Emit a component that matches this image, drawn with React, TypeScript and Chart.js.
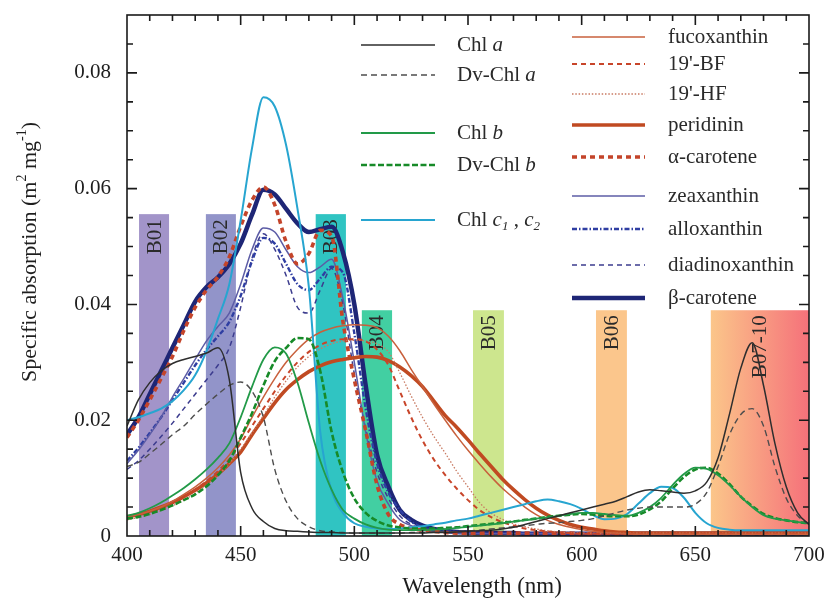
import React, { useEffect, useRef } from 'react';
import { Chart, registerables } from 'chart.js';

Chart.register(...registerables);

const FONT = "'Liberation Serif', 'Times New Roman', serif";

// ---------------- data ----------------
const wavelengths = [
  400, 405, 410, 415, 420, 425, 430, 435, 440, 445,
  450, 455, 460, 465, 470, 475, 480, 485, 490, 495,
  500, 505, 510, 515, 520, 525, 530, 535, 540, 545,
  550, 555, 560, 565, 570, 575, 580, 585, 590, 595,
  600, 605, 610, 615, 620, 625, 630, 635, 640, 645,
  650, 655, 660, 665, 670, 675, 680, 685, 690, 695,
  700,
];

const chlA = [
  0.019, 0.0235, 0.0265, 0.0285, 0.0298, 0.0305, 0.031, 0.0316, 0.0325, 0.027,
  0.011, 0.0048, 0.0025, 0.0013, 0.0009, 0.0008, 0.0007, 0.0006, 0.0006, 0.0005,
  0.0005, 0.0005, 0.0005, 0.0005, 0.0005, 0.0005, 0.0005, 0.0006, 0.0006, 0.0007,
  0.0008, 0.0009, 0.001, 0.0012, 0.0015, 0.002, 0.0025, 0.003, 0.0035, 0.004,
  0.0045, 0.005, 0.0055, 0.006, 0.0068, 0.0076, 0.008, 0.0078, 0.0076, 0.0074,
  0.0078, 0.0093, 0.0135, 0.021, 0.029, 0.0334, 0.026, 0.016, 0.0085, 0.004,
  0.002,
];
const dvChlA = [
  0.012, 0.0127, 0.0142, 0.0158, 0.0175, 0.019, 0.021, 0.0228, 0.0245, 0.026,
  0.0266, 0.025, 0.0205, 0.0115, 0.006, 0.003, 0.0016, 0.0009, 0.0007, 0.0006,
  0.0005, 0.0005, 0.0005, 0.0005, 0.0005, 0.0006, 0.0006, 0.0007, 0.0007, 0.0008,
  0.0009, 0.001, 0.0012, 0.0014, 0.0016, 0.0018, 0.002, 0.0022, 0.0023, 0.0025,
  0.0027, 0.003, 0.0035, 0.004, 0.0045, 0.0048, 0.005, 0.005, 0.005, 0.005,
  0.0055, 0.0075, 0.012, 0.0175, 0.021, 0.022, 0.019, 0.012, 0.0065, 0.0035,
  0.002,
];
const chlB = [
  0.0035, 0.004, 0.0048, 0.0058, 0.007, 0.0083, 0.0098, 0.0115, 0.0135, 0.016,
  0.0205, 0.0258, 0.0305, 0.0326, 0.0315, 0.0265, 0.0195, 0.013, 0.008, 0.0045,
  0.003, 0.002, 0.0014, 0.0011, 0.001, 0.001, 0.001, 0.0011, 0.0012, 0.0014,
  0.0016, 0.0018, 0.002, 0.0022, 0.0025, 0.0027, 0.003, 0.0032, 0.0035, 0.0038,
  0.004, 0.004, 0.0038, 0.0036, 0.0035, 0.004, 0.005, 0.0066, 0.0088, 0.0107,
  0.0118, 0.0116, 0.0105, 0.0088, 0.0068, 0.005, 0.0036, 0.003, 0.0027, 0.0024,
  0.0022,
];
const dvChlB = [
  0.003, 0.0033, 0.0038, 0.0045, 0.0053, 0.0062, 0.0072, 0.0086, 0.0105, 0.013,
  0.017, 0.0212, 0.026, 0.0302, 0.0325, 0.0342, 0.034, 0.0285, 0.018, 0.011,
  0.0065, 0.004, 0.0026, 0.0018, 0.0015, 0.0013, 0.0013, 0.0013, 0.0014, 0.0015,
  0.0017, 0.0019, 0.0021, 0.0023, 0.0025, 0.0028, 0.003, 0.0033, 0.0035, 0.0037,
  0.0038, 0.0037, 0.0035, 0.0034, 0.0034, 0.0037, 0.0046, 0.006, 0.0082, 0.0102,
  0.0115, 0.0118, 0.0108, 0.009, 0.0068, 0.0052, 0.0038, 0.0031, 0.0027, 0.0024,
  0.0022,
];
const chlC = [
  0.02, 0.0205, 0.0212, 0.022, 0.0233, 0.0252, 0.0278, 0.032, 0.0375, 0.0435,
  0.0545, 0.067, 0.0758, 0.0742, 0.0675, 0.0565, 0.043, 0.018, 0.0078, 0.004,
  0.0022, 0.0016, 0.0013, 0.0012, 0.0013, 0.0015, 0.0017, 0.002, 0.0023, 0.0027,
  0.003, 0.0035, 0.004, 0.0045, 0.005, 0.0055, 0.006, 0.0063, 0.006, 0.0055,
  0.0047, 0.0036, 0.0029, 0.003, 0.0038, 0.0056, 0.0074, 0.0085, 0.0083, 0.0066,
  0.004, 0.0022, 0.0014, 0.0011, 0.001, 0.001, 0.001, 0.001, 0.001, 0.001,
  0.001,
];
const fucoxanthin = [
  0.0033, 0.0037, 0.0043, 0.005, 0.006, 0.0072, 0.0085, 0.01, 0.0118, 0.014,
  0.0168, 0.0205, 0.024, 0.0272, 0.03, 0.0322, 0.034, 0.0352, 0.0359, 0.0363,
  0.0365, 0.0364, 0.036, 0.0345, 0.032, 0.0288, 0.0258, 0.0228, 0.02, 0.0173,
  0.0148, 0.0125, 0.0103, 0.0083, 0.0066, 0.005, 0.0037, 0.0027, 0.002, 0.0015,
  0.0011, 0.0008, 0.0006, 0.0005, 0.0004, 0.0003, 0.0003, 0.0003, 0.0003, 0.0003,
  0.0003, 0.0003, 0.0003, 0.0003, 0.0003, 0.0003, 0.0003, 0.0003, 0.0003, 0.0003,
  0.0003,
];
const bf19 = [
  0.003, 0.0034, 0.004, 0.0047, 0.0056, 0.0067, 0.008, 0.0095, 0.0112, 0.0133,
  0.016, 0.019, 0.022, 0.025, 0.0277, 0.03, 0.0318, 0.033, 0.0337, 0.034,
  0.034, 0.0336, 0.0322, 0.0295, 0.025, 0.0205, 0.0165, 0.0132, 0.0105, 0.0082,
  0.0062, 0.0045, 0.0033, 0.0024, 0.0018, 0.0013, 0.001, 0.0008, 0.0006, 0.0005,
  0.0004, 0.0004, 0.0004, 0.0004, 0.0004, 0.0004, 0.0004, 0.0004, 0.0004, 0.0004,
  0.0004, 0.0004, 0.0004, 0.0004, 0.0004, 0.0004, 0.0004, 0.0004, 0.0004, 0.0004,
  0.0004,
];
const hf19 = [
  0.0028, 0.0032, 0.0037, 0.0044, 0.0052, 0.0062, 0.0074, 0.0088, 0.0105, 0.0125,
  0.015, 0.0178, 0.0208, 0.024, 0.0268, 0.0292, 0.031, 0.0323, 0.0332, 0.0337,
  0.0338, 0.0337, 0.0332, 0.0318, 0.0282, 0.0242, 0.0205, 0.0172, 0.0143, 0.0112,
  0.0085, 0.0058, 0.004, 0.0029, 0.0021, 0.0016, 0.0012, 0.0009, 0.0007, 0.0006,
  0.0005, 0.0005, 0.0005, 0.0005, 0.0005, 0.0005, 0.0005, 0.0005, 0.0005, 0.0005,
  0.0005, 0.0005, 0.0005, 0.0005, 0.0005, 0.0005, 0.0005, 0.0005, 0.0005, 0.0005,
  0.0005,
];
const peridinin = [
  0.0033, 0.0037, 0.0043, 0.005, 0.0058, 0.0068, 0.0079, 0.0092, 0.0107, 0.0125,
  0.0145, 0.0175, 0.0203, 0.023, 0.0253, 0.027, 0.0284, 0.0294, 0.0301, 0.0305,
  0.0308, 0.031, 0.0309, 0.0303, 0.0292, 0.0277, 0.0258, 0.0233, 0.0208, 0.0188,
  0.0166, 0.0143, 0.0121, 0.0099, 0.008, 0.0063, 0.0048, 0.0036, 0.0027, 0.002,
  0.0015, 0.0012, 0.0009, 0.0007, 0.0006, 0.0005, 0.0005, 0.0005, 0.0005, 0.0005,
  0.0005, 0.0005, 0.0005, 0.0005, 0.0005, 0.0005, 0.0005, 0.0005, 0.0005, 0.0005,
  0.0005,
];
const alphaCarotene = [
  0.017, 0.02, 0.0235, 0.0272, 0.031, 0.0355, 0.0395, 0.0425, 0.0448, 0.0482,
  0.0535, 0.058, 0.0603, 0.0572, 0.0508, 0.047, 0.0488, 0.0528, 0.0518, 0.037,
  0.027, 0.0182, 0.0088, 0.0037, 0.002, 0.0013, 0.001, 0.0008, 0.0006, 0.0005,
  0.0005, 0.0005, 0.0005, 0.0005, 0.0005, 0.0005, 0.0005, 0.0005, 0.0005, 0.0005,
  0.0004, 0.0004, 0.0004, 0.0004, 0.0004, 0.0004, 0.0004, 0.0004, 0.0004, 0.0004,
  0.0004, 0.0004, 0.0004, 0.0004, 0.0004, 0.0004, 0.0004, 0.0004, 0.0004, 0.0004,
  0.0004,
];
const zeaxanthin = [
  0.0125, 0.0148, 0.0175, 0.0205, 0.024, 0.0272, 0.0305, 0.0337, 0.0362, 0.0385,
  0.0435, 0.0495, 0.0532, 0.0525, 0.0494, 0.0465, 0.0455, 0.0465, 0.0478, 0.041,
  0.03, 0.018, 0.0095, 0.0055, 0.0028, 0.0018, 0.001, 0.0008, 0.0006, 0.0005,
  0.0004, 0.0004, 0.0004, 0.0004, 0.0004, 0.0004, 0.0004, 0.0004, 0.0004, 0.0004,
  0.0004, 0.0004, 0.0004, 0.0004, 0.0004, 0.0004, 0.0004, 0.0004, 0.0004, 0.0004,
  0.0004, 0.0004, 0.0004, 0.0004, 0.0004, 0.0004, 0.0004, 0.0004, 0.0004, 0.0004,
  0.0004,
];
const alloxanthin = [
  0.013, 0.0152, 0.0178, 0.0205, 0.0235, 0.0265, 0.0295, 0.0322, 0.0345, 0.037,
  0.0415, 0.0475, 0.0515, 0.0505, 0.047, 0.0435, 0.0425, 0.0445, 0.0465, 0.0455,
  0.035, 0.022, 0.0125, 0.0075, 0.0045, 0.0025, 0.0015, 0.001, 0.0008, 0.0007,
  0.0005, 0.0005, 0.0005, 0.0005, 0.0005, 0.0005, 0.0005, 0.0005, 0.0005, 0.0005,
  0.0005, 0.0005, 0.0005, 0.0005, 0.0005, 0.0005, 0.0005, 0.0005, 0.0005, 0.0005,
  0.0005, 0.0005, 0.0005, 0.0005, 0.0005, 0.0005, 0.0005, 0.0005, 0.0005, 0.0005,
  0.0005,
];
const diadinoxanthin = [
  0.0115, 0.013, 0.015, 0.0172, 0.0195, 0.022, 0.0245, 0.027, 0.0295, 0.0325,
  0.0395, 0.048, 0.0522, 0.0495, 0.045, 0.0395, 0.0385, 0.0425, 0.0462, 0.04,
  0.028, 0.0185, 0.011, 0.0065, 0.0035, 0.002, 0.0012, 0.0009, 0.0007, 0.0006,
  0.0005, 0.0005, 0.0005, 0.0005, 0.0005, 0.0005, 0.0005, 0.0005, 0.0005, 0.0005,
  0.0005, 0.0005, 0.0005, 0.0005, 0.0005, 0.0005, 0.0005, 0.0005, 0.0005, 0.0005,
  0.0005, 0.0005, 0.0005, 0.0005, 0.0005, 0.0005, 0.0005, 0.0005, 0.0005, 0.0005,
  0.0005,
];
const betaCarotene = [
  0.0175, 0.0205, 0.0245, 0.0285, 0.0325, 0.0365, 0.0405, 0.043, 0.0447, 0.047,
  0.0505, 0.0555, 0.0598, 0.059, 0.0565, 0.054, 0.0525, 0.053, 0.0534, 0.049,
  0.04, 0.026, 0.014, 0.0085, 0.0045, 0.0028, 0.0018, 0.0012, 0.0009, 0.0007,
  0.0006, 0.0005, 0.0005, 0.0005, 0.0005, 0.0004, 0.0004, 0.0004, 0.0004, 0.0004,
  0.0004, 0.0004, 0.0004, 0.0004, 0.0004, 0.0004, 0.0004, 0.0004, 0.0004, 0.0004,
  0.0004, 0.0004, 0.0004, 0.0004, 0.0004, 0.0004, 0.0004, 0.0004, 0.0004, 0.0004,
  0.0004,
];

const seriesNames = [
  'Chl a', 'Dv-Chl a', 'Chl b', 'Dv-Chl b', 'Chl c1, c2',
  'fucoxanthin', "19'-BF", "19'-HF", 'peridinin', 'α-carotene',
  'zeaxanthin', 'alloxanthin', 'diadinoxanthin', 'β-carotene',
];
const seriesValues = [
  chlA, dvChlA, chlB, dvChlB, chlC,
  fucoxanthin, bf19, hf19, peridinin, alphaCarotene,
  zeaxanthin, alloxanthin, diadinoxanthin, betaCarotene,
];

// satellite bands
const bandLabels = ['B01', 'B02', 'B03', 'B04', 'B05', 'B06', 'B07-10'];
const bandStart = [405.3, 434.7, 483, 503.3, 552.2, 606.3, 656.8];
const bandEnd = [418.5, 447.9, 496.3, 516.6, 565.8, 619.9, 700];
const bandTop = [0.0556, 0.0556, 0.0556, 0.039, 0.039, 0.039, 0.039];

// axes
const xMin = 400, xMax = 700, xMinorStep = 10, xMajorStep = 50;
const yMin = 0, yMax = 0.09, yMinorStep = 0.005, yMajorStep = 0.02;

// ---------------- styles ----------------
const seriesStyles = [
  { color: '#2e2e2e', width: 1.5, dash: [] },
  { color: '#4d4d4d', width: 1.4, dash: [6, 4] },
  { color: '#229a48', width: 1.8, dash: [] },
  { color: '#178a28', width: 2.6, dash: [6, 2.5] },
  { color: '#27a5d0', width: 2, dash: [] },
  { color: '#c8603c', width: 1.5, dash: [] },
  { color: '#c8452a', width: 2, dash: [5, 4] },
  { color: '#c97a62', width: 1.3, dash: [1.5, 1.8] },
  { color: '#c04a22', width: 3.6, dash: [] },
  { color: '#c4442a', width: 3.6, dash: [5, 4] },
  { color: '#5c5ca6', width: 1.5, dash: [] },
  { color: '#2f3ea2', width: 2.4, dash: [5, 2, 1.5, 2] },
  { color: '#3c3c8e', width: 1.5, dash: [5, 4] },
  { color: '#1e2676', width: 4.5, dash: [] },
];
const bandColors = ['#a294c9', '#9294c9', '#30c4c2', '#42cfa2', '#cde68e', '#fbc68c', ['#fbc68a', '#f5717a']];

// legend label segments: 0 normal, 1 italic, 2 italic subscript, 3 superscript
type Seg = [string, number];
const legendSegments: Seg[][] = seriesNames.map((n) => [[n, 0]]);
legendSegments[0] = [['Chl ', 0], ['a', 1]];
legendSegments[1] = [['Dv-Chl ', 0], ['a', 1]];
legendSegments[2] = [['Chl ', 0], ['b', 1]];
legendSegments[3] = [['Dv-Chl ', 0], ['b', 1]];
legendSegments[4] = [['Chl ', 0], ['c', 1], ['1', 2], [' , ', 0], ['c', 1], ['2', 2]];

const yTitle: Seg[] = [['Specific absorption (m', 0], ['2', 3], [' mg', 0], ['-1', 3], [')', 0]];
const xTitle = 'Wavelength (nm)';

function segFont(kind: number, size: number) {
  const small = kind >= 2;
  const fs = small ? Math.round(size * 0.62) : size;
  return `${kind === 1 || kind === 2 ? 'italic ' : ''}${fs}px ${FONT}`;
}
function measureSegs(ctx: CanvasRenderingContext2D, segs: Seg[], size: number) {
  let w = 0;
  for (const [t, k] of segs) {
    ctx.font = segFont(k, size);
    w += ctx.measureText(t).width;
  }
  return w;
}
function drawSegs(ctx: CanvasRenderingContext2D, segs: Seg[], x: number, y: number, size: number) {
  let cx = x;
  for (const [t, k] of segs) {
    ctx.font = segFont(k, size);
    const dy = k === 2 ? size * 0.3 : k === 3 ? -size * 0.33 : 0;
    ctx.fillText(t, cx, y + dy);
    cx += ctx.measureText(t).width;
  }
}

const bandsPlugin = {
  id: 'bands',
  beforeDatasetsDraw(chart: any) {
    const { ctx, scales } = chart;
    const x = scales.x, y = scales.y;
    ctx.save();
    for (let i = 0; i < bandLabels.length; i++) {
      const x0 = x.getPixelForValue(bandStart[i]);
      const x1 = x.getPixelForValue(bandEnd[i]);
      const yt = y.getPixelForValue(bandTop[i]);
      const yb = y.getPixelForValue(0);
      const c = bandColors[i];
      if (Array.isArray(c)) {
        const g = ctx.createLinearGradient(x0, 0, x1, 0);
        g.addColorStop(0, c[0]);
        g.addColorStop(1, c[1]);
        ctx.fillStyle = g;
      } else {
        ctx.fillStyle = c;
      }
      ctx.fillRect(x0, yt, x1 - x0, yb - yt);
      ctx.save();
      ctx.translate((x0 + x1) / 2, yt + 5);
      ctx.rotate(-Math.PI / 2);
      ctx.fillStyle = '#2a2a2a';
      ctx.font = `21px ${FONT}`;
      ctx.textAlign = 'right';
      ctx.textBaseline = 'middle';
      ctx.fillText(bandLabels[i], 0, 1);
      ctx.restore();
    }
    ctx.restore();
  },
};

const framePlugin = {
  id: 'frame',
  afterDatasetsDraw(chart: any) {
    const { ctx, chartArea, scales } = chart;
    const { left, right, top, bottom } = chartArea;
    const x = scales.x, y = scales.y;
    ctx.save();
    ctx.strokeStyle = '#1a1a1a';
    ctx.lineWidth = 1.6;
    ctx.setLineDash([]);
    ctx.strokeRect(left, top, right - left, bottom - top);
    ctx.beginPath();
    const nx = Math.round((xMax - xMin) / xMinorStep);
    for (let k = 1; k < nx; k++) {
      const v = xMin + k * xMinorStep;
      const px = x.getPixelForValue(v);
      const len = v % xMajorStep === 0 ? 10 : 6;
      ctx.moveTo(px, bottom);
      ctx.lineTo(px, bottom - len);
      ctx.moveTo(px, top);
      ctx.lineTo(px, top + len);
    }
    const ny = Math.round((yMax - yMin) / yMinorStep);
    const per = Math.round(yMajorStep / yMinorStep);
    for (let k = 1; k < ny; k++) {
      const v = yMin + k * yMinorStep;
      const py = y.getPixelForValue(v);
      const len = k % per === 0 ? 10 : 6;
      ctx.moveTo(left, py);
      ctx.lineTo(left + len, py);
      ctx.moveTo(right, py);
      ctx.lineTo(right - len, py);
    }
    ctx.stroke();

    // titles
    ctx.fillStyle = '#1e1e1e';
    ctx.textBaseline = 'middle';
    ctx.textAlign = 'center';
    ctx.font = `23px ${FONT}`;
    ctx.fillText(xTitle, 482, 587);
    ctx.save();
    ctx.translate(30, 252);
    ctx.rotate(-Math.PI / 2);
    ctx.textAlign = 'left';
    const w = measureSegs(ctx, yTitle, 22);
    drawSegs(ctx, yTitle, -w / 2, 0, 22);
    ctx.restore();

    // legend
    const col1 = { lx0: 361, lx1: 435, tx: 457, rows: [45, 75, 133, 165, 220], idx: [0, 1, 2, 3, 4] };
    const col2 = { lx0: 572, lx1: 645, tx: 668, rows: [37, 64, 94, 125, 157, 196, 229, 265, 298], idx: [5, 6, 7, 8, 9, 10, 11, 12, 13] };
    for (const col of [col1, col2]) {
      col.idx.forEach((si, r) => {
        const ds = chart.data.datasets[si];
        const yy = col.rows[r];
        ctx.strokeStyle = ds.borderColor;
        ctx.lineWidth = ds.borderWidth;
        ctx.setLineDash(ds.borderDash || []);
        ctx.beginPath();
        ctx.moveTo(col.lx0, yy);
        ctx.lineTo(col.lx1, yy);
        ctx.stroke();
        ctx.setLineDash([]);
        ctx.fillStyle = '#2a2a2a';
        ctx.textAlign = 'left';
        drawSegs(ctx, legendSegments[si], col.tx, yy, 21);
      });
    }
    ctx.restore();
  },
};

export default function App() {
  const ref = useRef<HTMLCanvasElement | null>(null);
  useEffect(() => {
    if (!ref.current) return;
    const datasets = seriesNames.map((name, i) => ({
      label: name,
      data: wavelengths.map((w, j) => ({ x: w, y: seriesValues[i][j] })),
      borderColor: seriesStyles[i].color,
      borderWidth: seriesStyles[i].width,
      borderDash: seriesStyles[i].dash,
      pointRadius: 0,
      fill: false,
      cubicInterpolationMode: 'monotone' as const,
      borderCapStyle: 'butt' as const,
    }));
    const chart = new Chart(ref.current, {
      type: 'line',
      data: { datasets },
      options: {
        responsive: false,
        animation: false,
        events: [],
        layout: { padding: { left: 0, right: 18, top: 15, bottom: 0 } },
        plugins: { legend: { display: false }, tooltip: { enabled: false } },
        scales: {
          x: {
            type: 'linear',
            min: xMin,
            max: xMax,
            grid: { display: false, drawTicks: false },
            border: { display: false },
            afterFit: (s: any) => { s.height = 67; s.paddingLeft = 0; s.paddingRight = 0; },
            ticks: {
              stepSize: xMinorStep,
              autoSkip: false,
              maxRotation: 0,
              padding: 7,
              color: '#1e1e1e',
              font: { family: FONT, size: 21 },
              callback: (v: any) => (Number(v) % xMajorStep === 0 ? String(v) : ''),
            },
          },
          y: {
            type: 'linear',
            min: yMin,
            max: yMax,
            grid: { display: false, drawTicks: false },
            border: { display: false },
            afterFit: (s: any) => { s.width = 127; s.paddingTop = 0; s.paddingBottom = 0; },
            ticks: {
              stepSize: yMinorStep,
              autoSkip: false,
              padding: 16,
              color: '#1e1e1e',
              font: { family: FONT, size: 21 },
              callback: (v: any) => {
                const k = Math.round(Number(v) / yMinorStep);
                const per = Math.round(yMajorStep / yMinorStep);
                if (k % per !== 0) return '';
                return k === 0 ? '0' : (k * yMinorStep).toFixed(2);
              },
            },
          },
        },
      },
      plugins: [bandsPlugin, framePlugin],
    } as any);
    return () => chart.destroy();
  }, []);
  return (
    <div style={{ position: 'absolute', left: 0, top: 0, width: 827, height: 603, background: '#fff' }}>
      <canvas ref={ref} width={827} height={603} style={{ display: 'block' }} />
    </div>
  );
}
